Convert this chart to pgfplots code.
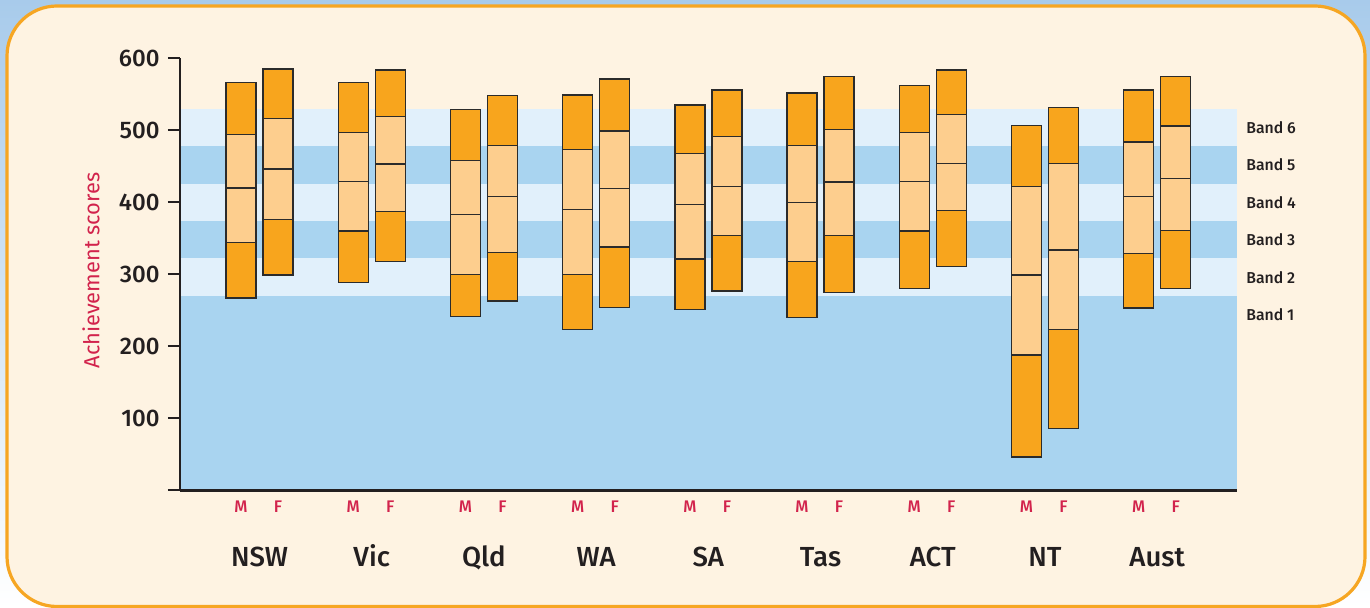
\documentclass[border=0pt]{standalone}
\usepackage{fontspec}
\setmainfont{Fira Sans}
\newfontfamily\medfont{Fira Sans Medium}
\usepackage{pgfplots}
\pgfplotsset{compat=1.18}

\definecolor{outblue}{HTML}{A8CBEB}
\definecolor{cream}{HTML}{FEF3E2}
\definecolor{rim}{HTML}{F6A623}
\definecolor{bandlt}{HTML}{E1F0FB}
\definecolor{banddk}{HTML}{A9D4F0}
\definecolor{dko}{HTML}{F8A51D}
\definecolor{lto}{HTML}{FDCE8E}
\definecolor{barline}{HTML}{2B2B2B}
\definecolor{redlab}{HTML}{D2234C}
\definecolor{ink}{HTML}{231F20}

% one bar: left edge, right edge, p5, p25, mean, p75, p95
\newcommand\scorebar[7]{%
  \addplot[fill=dko, draw=barline, line width=0.7pt] coordinates
    {(#1,#3) (#2,#3) (#2,#4) (#1,#4)} -- cycle;
  \addplot[fill=lto, draw=barline, line width=0.7pt] coordinates
    {(#1,#4) (#2,#4) (#2,#6) (#1,#6)} -- cycle;
  \addplot[fill=dko, draw=barline, line width=0.7pt] coordinates
    {(#1,#6) (#2,#6) (#2,#7) (#1,#7)} -- cycle;
  \addplot[barline, line width=0.7pt] coordinates {(#1,#5) (#2,#5)};}
\newcommand\band[3]{%
  \addplot[fill=#3, draw=none] coordinates
    {(-0.709,#1) (8.709,#1) (8.709,#2) (-0.709,#2)} -- cycle;}

\begin{document}
\begin{tikzpicture}
\path[use as bounding box] (-90pt,-58.85pt) rectangle (595pt,245.15pt);
\shade[top color=outblue, bottom color=white] (-90pt,-58.85pt) rectangle (595pt,245.15pt);
\filldraw[fill=cream, draw=rim, line width=1.6pt, rounded corners=25pt]
  (-86.5pt,-58.1pt) rectangle (592.5pt,242.15pt);

\begin{axis}[
  at={(0,0)}, anchor=south west,
  scale only axis, width=528.35pt, height=216pt,
  xmin=-0.709, xmax=8.709, ymin=0, ymax=600,
  axis x line*=bottom, axis y line*=left,
  axis on top, clip=false,
  axis line style={ink, line width=1.3pt},
  tick align=outside, major tick length=6pt,
  ytick={0,100,...,600},
  yticklabels={,100,200,300,400,500,600},
  ytick style={ink, line width=0.9pt},
  yticklabel style={font=\medfont\fontsize{12}{14}\selectfont, color=ink,
    anchor=east, inner sep=0pt, xshift=-4pt},
  xtick={-0.165,0.165,0.835,1.165,1.835,2.165,2.835,3.165,3.835,4.165,
         4.835,5.165,5.835,6.165,6.835,7.165,7.835,8.165},
  xticklabels={M,F,M,F,M,F,M,F,M,F,M,F,M,F,M,F,M,F},
  xtick style={draw=none},
  xticklabel style={font=\medfont\fontsize{8.4}{10}\selectfont, color=redlab,
    anchor=base, inner sep=0pt, yshift=-5pt},
  extra x ticks={0,1,2,3,4,5,6,7,8},
  extra x tick labels={NSW,Vic,Qld,WA,SA,Tas,ACT,NT,Aust},
  extra x tick style={tick style={draw=none},
    xticklabel style={font=\medfont\fontsize{13.8}{16}\selectfont, color=ink,
      yshift=-27.2pt}},
  ylabel={Achievement scores},
  every axis y label/.style={at={(axis description cs:-0.0842,0.509)},
    rotate=90, anchor=center, color=redlab, font=\fontsize{10.9}{13}\selectfont},
]
% score bands
\band{0}{270}{banddk}
\band{270}{322}{bandlt}
\band{322}{374}{banddk}
\band{374}{426}{bandlt}
\band{426}{478}{banddk}
\band{478}{530}{bandlt}

% left, right, p5, p25, mean, p75, p95
\scorebar{-0.299}{-0.031}{267}{344}{420}{494}{566}
\scorebar{0.031}{0.299}{299}{376}{446}{516}{585}
\scorebar{0.701}{0.969}{289}{360}{429}{497}{566}
\scorebar{1.031}{1.299}{318}{387}{453}{519}{584}
\scorebar{1.701}{1.969}{241}{300}{383}{458}{529}
\scorebar{2.031}{2.299}{263}{330}{408}{479}{548}
\scorebar{2.701}{2.969}{223}{300}{390}{473}{549}
\scorebar{3.031}{3.299}{254}{338}{419}{499}{571}
\scorebar{3.701}{3.969}{251}{321}{397}{468}{535}
\scorebar{4.031}{4.299}{277}{354}{422}{491}{556}
\scorebar{4.701}{4.969}{240}{318}{400}{479}{552}
\scorebar{5.031}{5.299}{275}{354}{428}{501}{575}
\scorebar{5.701}{5.969}{280}{360}{429}{497}{562}
\scorebar{6.031}{6.299}{311}{389}{454}{522}{584}
\scorebar{6.701}{6.969}{46}{188}{299}{422}{507}
\scorebar{7.031}{7.299}{86}{223}{334}{454}{532}
\scorebar{7.701}{7.969}{253}{329}{408}{484}{556}
\scorebar{8.031}{8.299}{280}{361}{433}{506}{575}

\begin{scope}[font=\medfont\fontsize{7.9}{10}\selectfont, color=ink]
\node[anchor=west, inner sep=0pt, xshift=4.6pt] at (axis cs:8.709,244) {Band 1};
\node[anchor=west, inner sep=0pt, xshift=4.6pt] at (axis cs:8.709,296) {Band 2};
\node[anchor=west, inner sep=0pt, xshift=4.6pt] at (axis cs:8.709,348) {Band 3};
\node[anchor=west, inner sep=0pt, xshift=4.6pt] at (axis cs:8.709,400) {Band 4};
\node[anchor=west, inner sep=0pt, xshift=4.6pt] at (axis cs:8.709,452) {Band 5};
\node[anchor=west, inner sep=0pt, xshift=4.6pt] at (axis cs:8.709,504) {Band 6};
\end{scope}
\end{axis}
\end{tikzpicture}
\end{document}
